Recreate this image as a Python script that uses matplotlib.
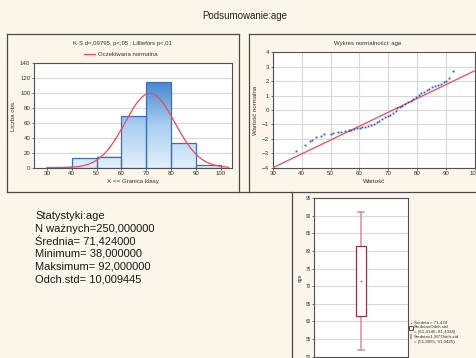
import numpy as np
import matplotlib
matplotlib.use("Agg")
import matplotlib.pyplot as plt
from matplotlib.lines import Line2D
from matplotlib.patches import Rectangle
from matplotlib.colors import LinearSegmentedColormap

plt.rcParams['font.family'] = ['Liberation Sans', 'DejaVu Sans']

# ---------------- data ----------------
variable = "age"
n_valid = 250
mean_val = 71.424
min_val = 38.0
max_val = 92.0
std_val = 10.009445

bin_edges = [30, 40, 50, 60, 70, 80, 90, 100]
bin_counts = [1, 13, 15, 69, 115, 33, 4]
hist_yticks = [0, 20, 40, 60, 80, 100, 120, 140]
hist_xticks = [30, 40, 50, 60, 70, 80, 90, 100]

qq_age = [38.0, 41.0, 42.9, 43.6, 44.9, 46.7, 47.9, 50.1, 51.0, 52.7, 53.6, 55.0,
          56.3, 57.1, 58.0, 59.2, 60.2, 61.0, 62.0, 63.0, 64.1, 65.1, 66.1, 66.9,
          67.9, 68.9, 69.9, 70.8, 71.7, 72.6, 73.2, 74.1, 74.8, 75.8, 76.8, 77.8,
          78.6, 79.6, 80.6, 81.4, 82.4, 83.4, 84.3, 85.3, 86.3, 87.3, 88.3, 89.3,
          90.1, 91.1, 92.4]
qq_normal = [-2.83, -2.41, -2.15, -2.06, -1.90, -1.78, -1.69, -1.64, -1.62, -1.55,
             -1.53, -1.46, -1.41, -1.37, -1.32, -1.27, -1.23, -1.20, -1.18, -1.13,
             -1.04, -0.95, -0.85, -0.74, -0.63, -0.51, -0.40, -0.33, -0.21, -0.05,
             0.12, 0.23, 0.30, 0.40, 0.53, 0.65, 0.76, 0.90, 1.06, 1.18, 1.27, 1.37,
             1.48, 1.58, 1.67, 1.74, 1.83, 1.92, 1.99, 2.24, 2.73]
qq_line_x = [30, 100]
qq_line_y = [-4.0, 2.72]
qq_xticks = [30, 40, 50, 60, 70, 80, 90, 100]
qq_yticks = [-4, -3, -2, -1, 0, 1, 2, 3, 4]

box_low, box_high = 61.4146, 81.4334
whisk_low, whisk_high = 51.8055, 91.0425
box_yticks = [50, 55, 60, 65, 70, 75, 80, 85, 90, 95]

stats_lines = ["Statystyki:age",
               "N ważnych=250,000000",
               "Średnia= 71,424000",
               "Minimum= 38,000000",
               "Maksimum= 92,000000",
               "Odch.std= 10,009445"]

# ---------------- figure ----------------
W, H = 476, 358
BG = '#fcf6ea'
fig = plt.figure(figsize=(W / 100, H / 100), dpi=100, facecolor=BG)


def rect(l, t, r, b):
    return [l / W, 1 - b / H, (r - l) / W, (b - t) / H]


def fx(x):
    return x / W


def fy(y):
    return 1 - y / H


def hline(y, x0, x1, **kw):
    fig.add_artist(Line2D([fx(x0), fx(x1)], [fy(y), fy(y)], transform=fig.transFigure, **kw))


def vline(x, y0, y1, **kw):
    fig.add_artist(Line2D([fx(x), fx(x)], [fy(y0), fy(y1)], transform=fig.transFigure, **kw))


FRAME = dict(color='#4a4a4a', lw=0.9)
# panel frames
vline(7, 34, 192, **FRAME)
hline(34, 7, 239, **FRAME)
vline(239, 34, 192, **FRAME)
vline(249, 34, 192, **FRAME)
hline(34, 249, 476, **FRAME)
hline(192, 7, 476, **FRAME)
vline(292, 192, 358, **FRAME)

fig.text(fx(245), fy(16), "Podsumowanie:age", ha='center', va='center', fontsize=7, color='#222222')

TICK_FS = 4.4
SPINE = '#505050'
GRID = '#d8d8d8'


def style_axes(ax, fs=TICK_FS):
    ax.set_facecolor('white')
    for s in ax.spines.values():
        s.set_color(SPINE)
        s.set_linewidth(0.8)
    ax.tick_params(labelsize=fs, length=1.5, width=0.5, colors='#333333', pad=1.2)
    ax.set_axisbelow(True)


# ---------------- histogram ----------------
axh = fig.add_axes(rect(34, 63.3, 232.3, 167.7))
style_axes(axh)
axh.set_xticks(hist_xticks)
axh.set_yticks(hist_yticks)
axh.yaxis.grid(True, color=GRID, lw=0.8)
cmap = LinearSegmentedColormap.from_list('bl', ['#e3f0fb', '#a9cff0', '#4a88cf'])
ymax = max(bin_counts)
for i, c in enumerate(bin_counts):
    x0, x1 = bin_edges[i], bin_edges[i + 1]
    grad = np.linspace(0, c, 64).reshape(-1, 1)
    axh.imshow(grad, extent=(x0, x1, 0, c), origin='lower', cmap=cmap, vmin=0, vmax=ymax,
               aspect='auto', zorder=2, interpolation='bilinear')
    axh.add_patch(Rectangle((x0, 0), x1 - x0, c, fill=False, edgecolor='#3c70bd', lw=0.9, zorder=3))
axh.set_xlim(24.9, 104.5)
axh.set_ylim(0, 140)
xs = np.linspace(30, 103, 300)
binw = bin_edges[1] - bin_edges[0]
ys = n_valid * binw / (std_val * np.sqrt(2 * np.pi)) * np.exp(-0.5 * ((xs - mean_val) / std_val) ** 2)
axh.plot(xs, ys, color='#ee4a57', lw=0.9, zorder=4)
axh.set_xlabel("X <= Granica klasy", fontsize=TICK_FS, labelpad=2, color='#333333')
axh.set_ylabel("Liczba obs.", fontsize=TICK_FS, labelpad=3, color='#333333')
fig.text(fx(122.5), fy(43), "K-S d=,09795, p<,05 ; Lilliefors p<,01", ha='center', va='center',
         fontsize=4.3, color='#333333')
hline(54, 84, 95, color='#ee4a57', lw=0.9)
fig.text(fx(98), fy(54), "Oczekiwana normalna", ha='left', va='center', fontsize=4.3, color='#333333')

# ---------------- normal probability plot ----------------
axq = fig.add_axes(rect(272.9, 52.4, 474.5, 167.7))
style_axes(axq)
axq.set_xlim(30, 100)
axq.set_ylim(-4, 4)
axq.set_xticks(qq_xticks)
axq.set_yticks(qq_yticks)
axq.grid(True, color=GRID, lw=0.8)
axq.plot(qq_line_x, qq_line_y, color='#ee4a57', lw=0.9, zorder=3)
axq.plot(qq_age, qq_normal, 's', ms=1.3, color='#3050b0', mec='none', zorder=4)
axq.set_xlabel("Wartość", fontsize=TICK_FS, labelpad=2, color='#333333')
axq.set_ylabel("Wartość normalna", fontsize=TICK_FS, labelpad=3, color='#333333')
fig.text(fx(367.5), fy(43), "Wykres normalności: age", ha='center', va='center',
         fontsize=4.3, color='#333333')

# ---------------- statistics text ----------------
for i, line in enumerate(stats_lines):
    fig.text(fx(35), fy(216 + i * 12.6), line, ha='left', va='center', fontsize=8, color='#1a1a1a')

# ---------------- box plot ----------------
axb = fig.add_axes(rect(314.3, 198.2, 407.7, 356.6))
style_axes(axb, fs=3.3)
axb.set_xlim(-1, 1)
axb.set_ylim(50, 95)
axb.set_yticks(box_yticks)
axb.set_xticks([])
axb.yaxis.grid(True, color=GRID, lw=0.8)
WH = '#d39aa0'
axb.plot([0, 0], [whisk_low, box_low], color=WH, lw=1.2, zorder=2)
axb.plot([0, 0], [box_high, whisk_high], color=WH, lw=1.2, zorder=2)
for yv in (whisk_low, whisk_high):
    axb.plot([-0.06, 0.06], [yv, yv], color=WH, lw=1.2, zorder=2)
axb.add_patch(Rectangle((-0.1, box_low), 0.2, box_high - box_low, facecolor='white',
                        edgecolor='#8a3845', lw=0.9, zorder=3))
axb.plot([0], [mean_val], 'o', ms=1.2, color='#c8302f', mec='none', zorder=4)
axb.set_ylabel("age", fontsize=3.5, labelpad=2, color='#333333')

# legend of the box plot
LFS = 3.2
fig.add_artist(Line2D([fx(411)], [fy(323)], marker='o', ms=1.0, color='#c8302f', mec='none',
                      transform=fig.transFigure))
fig.text(fx(413.5), fy(323), "Średnia = 71,424", fontsize=LFS, va='center', ha='left', color='#333333')
fig.add_artist(Rectangle((fx(409), fy(330)), 4 / W, 4.5 / H, transform=fig.transFigure,
                         fill=False, edgecolor='#8a3845', lw=0.7))
fig.text(fx(414), fy(327.5), "Średnia±Odch.std", fontsize=LFS, va='center', ha='left', color='#333333')
fig.text(fx(413.5), fy(332), "= (61,4146, 81,4334)", fontsize=LFS, va='center', ha='left', color='#333333')
fig.text(fx(409), fy(337.5), "I", fontsize=5, va='center', ha='left', color='#c8302f', fontweight='bold')
fig.text(fx(414), fy(337), "Średnia±1,96*Odch.std", fontsize=LFS, va='center', ha='left', color='#333333')
fig.text(fx(413.5), fy(341.5), "= (51,8055, 91,0425)", fontsize=LFS, va='center', ha='left', color='#333333')

fig.savefig("out.png", dpi=100, facecolor=BG)
